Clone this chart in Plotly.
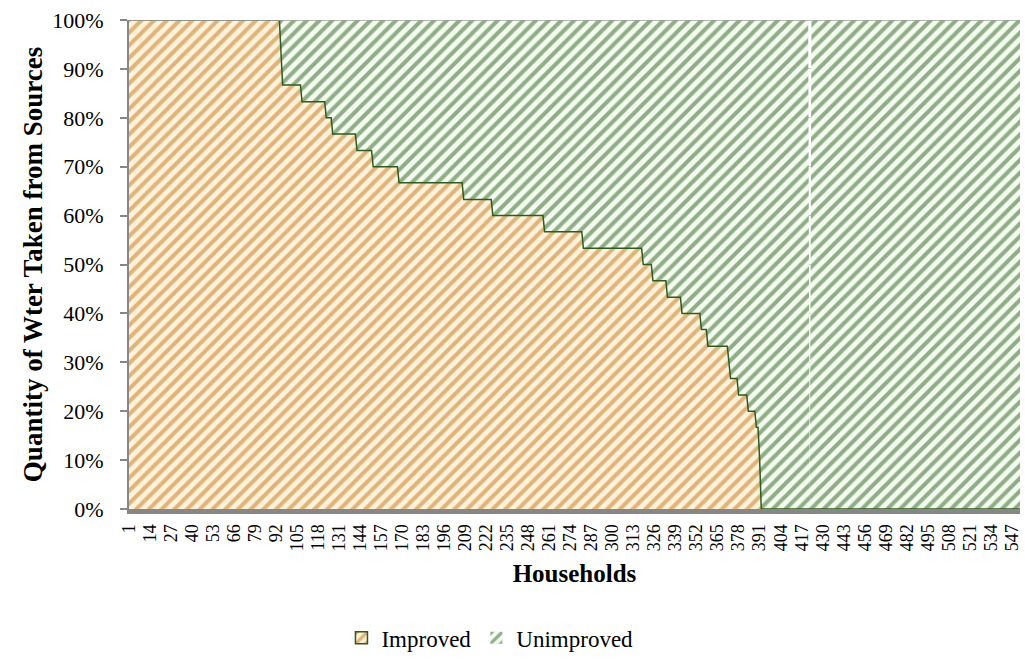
import plotly.graph_objects as go

# Households are grouped into runs that share the same split of water sources
run_lengths = [94, 1, 12, 15, 4, 15, 10, 16, 40, 18, 32, 24, 37, 6, 9, 9,
               12, 4, 13, 1, 5, 6, 5, 2, 1, 30, 1, 130]
improved_pct = [100, 93.3, 86.7, 83.3, 80, 76.7, 73.3, 70, 66.7, 63.3, 60,
                56.7, 53.3, 50, 46.7, 43.3, 40, 36.7, 33.3, 30, 26.7, 23.3,
                20, 16.7, 10, 0, 0, 0]
unimproved_pct = [0, 6.7, 13.3, 16.7, 20, 23.3, 26.7, 30, 33.3, 36.7, 40,
                  43.3, 46.7, 50, 53.3, 56.7, 60, 63.3, 66.7, 70, 73.3, 76.7,
                  80, 83.3, 90, 100, 0, 100]

x_tick_labels = [1, 14, 27, 40, 53, 66, 79, 92, 105, 118, 131, 144, 157, 170,
                 183, 196, 209, 222, 235, 248, 261, 274, 287, 300, 313, 326,
                 339, 352, 365, 378, 391, 404, 417, 430, 443, 456, 469, 482,
                 495, 508, 521, 534, 547]
y_tick_values = [0, 10, 20, 30, 40, 50, 60, 70, 80, 90, 100]

# Expand the runs into one value per household
households, improved, unimproved = [], [], []
h = 1
for n, imp, unimp in zip(run_lengths, improved_pct, unimproved_pct):
    for _ in range(n):
        households.append(h)
        improved.append(imp)
        unimproved.append(unimp)
        h += 1

SERIF = "Liberation Serif"
AXIS_GREY = "#878787"
EDGE_GREEN = "#2E5B1E"

improved_pattern = dict(shape="/", fgcolor="#BF7620", bgcolor="#FFF2D8",
                        size=9, solidity=0.45)
unimproved_pattern = dict(shape="/", fgcolor="#2F5E22", bgcolor="#F3FCEF",
                          size=9, solidity=0.45)

fig = go.Figure()
fig.add_trace(go.Scatter(
    x=households, y=improved, name="Improved", mode="lines",
    stackgroup="water", showlegend=False,
    line=dict(color=EDGE_GREEN, width=1.5),
    fillpattern=improved_pattern, hoverinfo="skip",
))
fig.add_trace(go.Scatter(
    x=households, y=unimproved, name="Unimproved", mode="lines",
    stackgroup="water", showlegend=False,
    line=dict(color="#2F5E22", width=0),
    fillpattern=unimproved_pattern, hoverinfo="skip",
))

# Square legend keys for the two source types
fig.add_trace(go.Bar(
    x=[None], y=[None], name="Improved",
    marker=dict(color="#FFF2D8", pattern=improved_pattern,
                line=dict(color=EDGE_GREEN, width=1.5)),
))
fig.add_trace(go.Bar(
    x=[None], y=[None], name="Unimproved",
    marker=dict(color="#F3FCEF", pattern=unimproved_pattern,
                line=dict(width=0)),
))

# Thin frame along the top of the plot area
fig.add_shape(type="line", xref="paper", yref="y", x0=0, x1=1, y0=100, y1=100,
              line=dict(color="#A0A0A0", width=1.5), layer="above")

fig.update_layout(
    width=1025, height=659,
    margin=dict(l=129, r=3, t=20, b=150),
    paper_bgcolor="white", plot_bgcolor="white",
    font=dict(family=SERIF, color="black"),
    showlegend=True,
    legend=dict(orientation="h", xref="container", yref="container",
                x=0.478, y=0.032, xanchor="center", yanchor="middle",
                font=dict(family=SERIF, size=23), traceorder="normal",
                itemwidth=30),
    xaxis=dict(
        range=[1, len(households)],
        tickmode="array", tickvals=x_tick_labels,
        ticktext=[str(v) for v in x_tick_labels],
        tickangle=-90, tickfont=dict(family=SERIF, size=18),
        ticks="", showgrid=False, zeroline=False,
        showline=True, linecolor=AXIS_GREY, linewidth=5,
        ticklabelstandoff=3,
        title=dict(text="<b>Households</b>", font=dict(family=SERIF, size=25),
                   standoff=16),
    ),
    yaxis=dict(
        range=[0, 100],
        tickmode="array", tickvals=y_tick_values,
        ticktext=[f"{v}%" for v in y_tick_values],
        tickfont=dict(family=SERIF, size=22),
        ticks="outside", ticklen=7, tickcolor=AXIS_GREY, tickwidth=1.5,
        ticklabelstandoff=12,
        showgrid=True, gridcolor="#C8C8C8", gridwidth=1, zeroline=False,
        showline=True, linecolor=AXIS_GREY, linewidth=2,
        title=dict(text="<b>Quantity of Wter Taken from Sources</b>",
                   font=dict(family=SERIF, size=27), standoff=2),
    ),
)

fig.write_html("out.html")
